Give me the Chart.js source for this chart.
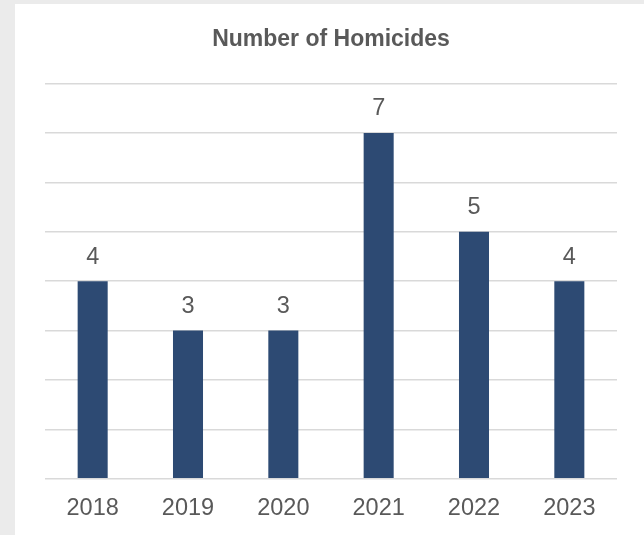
<!DOCTYPE html>
<html>
<head>
<meta charset="utf-8">
<script src="https://cdn.jsdelivr.net/npm/chart.js@4.4.0/dist/chart.umd.min.js"></script>
<style>
  html, body { margin: 0; padding: 0; background: #ebebeb; }
  #wrap { position: absolute; left: 15px; top: 4px; width: 629px; height: 531px; background: #ffffff; }
</style>
</head>
<body>
<div id="wrap"><canvas id="chart"></canvas></div>
<script>
// chart data
const years = ["2018", "2019", "2020", "2021", "2022", "2023"];
const homicides = [4, 3, 3, 7, 5, 4];
const yMax = 8;

const TEXT = "#595959";
const BAR = "#2d4a73";
const GRID = "#d9d9d9";
const FONT = "'Liberation Sans', Arial, sans-serif";

// draws the value above each bar
const valueLabels = {
  id: "valueLabels",
  afterDatasetsDraw(chart) {
    const { ctx } = chart;
    const meta = chart.getDatasetMeta(0);
    ctx.save();
    ctx.fillStyle = TEXT;
    ctx.font = "23.5px " + FONT;
    ctx.textAlign = "center";
    ctx.textBaseline = "middle";
    meta.data.forEach((bar, i) => {
      ctx.fillText(String(homicides[i]), bar.x, bar.y - 24);
    });
    ctx.restore();
  },
};

new Chart(document.getElementById("chart"), {
  type: "bar",
  data: {
    labels: years,
    datasets: [{
      label: "Number of Homicides",
      data: homicides,
      backgroundColor: BAR,
      barPercentage: 0.315,
      categoryPercentage: 1,
    }],
  },
  options: {
    responsive: true,
    maintainAspectRatio: false,
    animation: false,
    layout: { padding: { left: 30, right: 27, top: 0, bottom: 12 } },
    plugins: {
      legend: { display: false },
      tooltip: { enabled: false },
      title: {
        display: true,
        text: "Number of Homicides",
        color: TEXT,
        font: { family: FONT, size: 23, weight: "bold" },
        padding: { top: 22, bottom: 30 },
      },
    },
    scales: {
      x: {
        grid: { display: false, tickLength: 16 },
        border: { display: false },
        ticks: {
          color: TEXT,
          padding: 0,
          font: { family: FONT, size: 23.5 },
        },
      },
      y: {
        min: 0,
        max: yMax,
        border: { display: false },
        grid: { color: GRID, lineWidth: 1.5, drawTicks: false },
        ticks: { display: false, stepSize: 1 },
      },
    },
  },
  plugins: [valueLabels],
});
</script>
</body>
</html>
